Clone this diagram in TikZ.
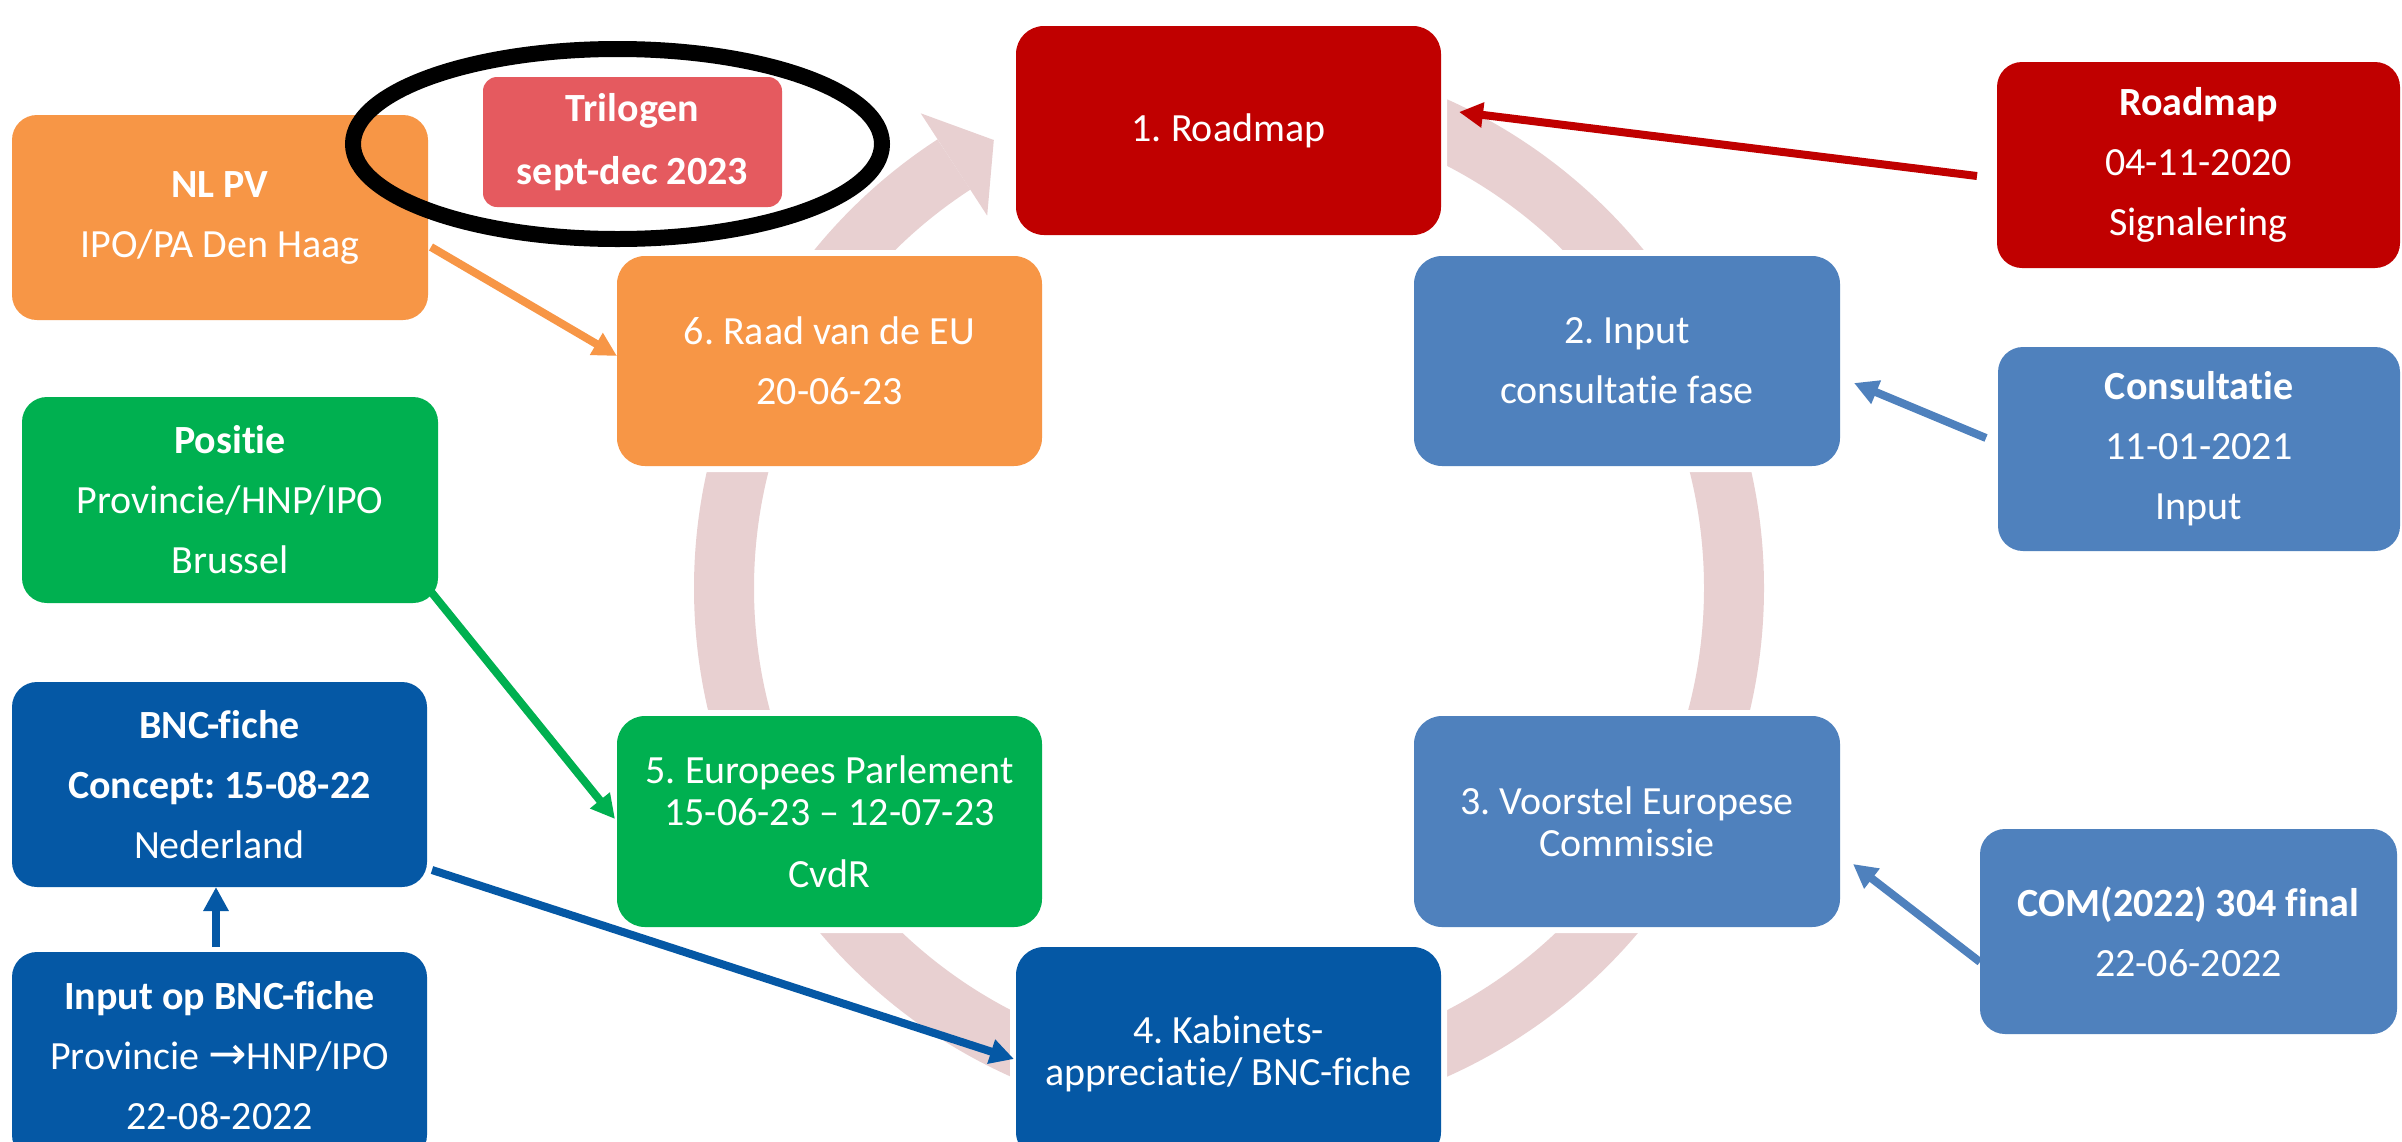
\documentclass[tikz,border=0pt]{standalone}
\usepackage{fontspec}
\setmainfont{Carlito}[Ligatures=NoCommon]
\newfontfamily\symfont{DejaVu Sans}
\usetikzlibrary{arrows.meta,shapes.geometric}
\definecolor{cRed}{RGB}{192,0,0}
\definecolor{cLBlue}{RGB}{79,129,189}
\definecolor{cDBlue}{RGB}{5,88,165}
\definecolor{cGreen}{RGB}{0,176,80}
\definecolor{cOrange}{RGB}{247,150,70}
\definecolor{cTril}{RGB}{229,90,95}
\definecolor{cRing}{RGB}{232,208,209}
\frenchspacing
\begin{document}
\begin{tikzpicture}[x=1pt,y=-1pt,
  box/.style={rounded corners=28pt, text=white, align=center, inner sep=0pt, outer sep=0pt,
    font=\fontsize{40}{42}\selectfont},
  cyc/.style={box, preaction={draw=white, line width=12pt}},
  arr/.style={line width=8pt, -{Triangle[length=24pt,width=24pt]}}
]
\useasboundingbox (0,0) rectangle (2402,1141);
\fill[white] (0,0) rectangle (2402,1141);
\clip (0,0) rectangle (2402,1141);

% background cycle ring
\begin{scope}[shift={(1229,588)}, x=1pt, y=1pt]
  \draw[cRing, line width=60pt] (90:505) arc[start angle=90, end angle=-237, radius=505];
  \fill[cRing] (123:444) -- (117.7:506) -- (123:566) -- cycle;
\end{scope}

% cycle boxes
\node[cyc, fill=cRed, minimum width=425pt, minimum height=209pt] (b1) at (1228.5,130.5) {1. Roadmap};
\node[cyc, fill=cLBlue, minimum width=426pt, minimum height=210pt] (b2) at (1627,361) {2. Input\\[18pt]consultatie fase};
\node[cyc, fill=cLBlue, minimum width=426pt, minimum height=211pt] (b3) at (1627,821.5) {3. Voorstel Europese\\Commissie};
\node[cyc, fill=cDBlue, minimum width=425pt, minimum height=213pt] (b4) at (1228.5,1053.5) {4. Kabinets-\\appreciatie/ BNC-fiche};
\node[cyc, fill=cGreen, minimum width=425pt, minimum height=211pt] (b5) at (829.5,821.5) {5. Europees Parlement\\15-06-23 -- 12-07-23\\[20pt]CvdR};
\node[cyc, fill=cOrange, minimum width=425pt, minimum height=210pt] (b6) at (829.5,361) {6. Raad van de EU\\[18pt]20-06-23};

% side boxes
\node[box, rounded corners=25pt, fill=cRed, minimum width=403pt, minimum height=206pt] (rm) at (2198.5,165) {\bfseries Roadmap\\[18pt]04-11-2020\\[18pt]Signalering};
\node[box, rounded corners=25pt, fill=cLBlue, minimum width=402pt, minimum height=204pt] (cons) at (2199,449) {\bfseries Consultatie\\[18pt]11-01-2021\\[18pt]Input};
\node[box, rounded corners=25pt, fill=cLBlue, minimum width=417pt, minimum height=205pt] (com) at (2188.5,931.5) {\bfseries COM(2022) 304 final\\[18pt]22-06-2022};
\node[box, rounded corners=25pt, fill=cOrange, minimum width=416pt, minimum height=205pt] (nlpv) at (220,217.5) {\bfseries NL PV\\[18pt]IPO/PA Den Haag};
\node[box, rounded corners=25pt, fill=cGreen, minimum width=416pt, minimum height=206pt] (pos) at (230,500) {\bfseries Positie\\[18pt]Provincie/HNP/IPO\\[18pt]Brussel};
\node[box, rounded corners=25pt, fill=cDBlue, minimum width=415pt, minimum height=205pt] (bnc) at (219.5,784.5) {\bfseries BNC-fiche\\[18pt]\bfseries Concept: 15-08-22\\[18pt]Nederland};
\node[box, rounded corners=25pt, fill=cDBlue, minimum width=415pt, minimum height=208pt] (ib) at (219.5,1056) {\bfseries Input op BNC-fiche\\[18pt]Provincie {\symfont\fontsize{46}{42}\selectfont →}HNP/IPO\\[18pt]22-08-2022};
\node[box, rounded corners=14pt, fill=cTril, minimum width=299pt, minimum height=130pt] (tril) at (632.5,142) {\bfseries Trilogen\\[21pt]\bfseries sept-dec 2023};

% connectors
\draw[arr, cRed] ([xshift=-20pt,yshift=-11pt]rm.west) -- ([xshift=18pt,yshift=18.5pt]b1.east);
\draw[arr, cLBlue] ([xshift=-12pt,yshift=11pt]cons.west) -- ([xshift=14pt,yshift=-22pt]b2.east);
\draw[arr, cLBlue] ([yshift=-30.5pt]com.west) -- ([xshift=13pt,yshift=-42.5pt]b3.east);
\draw[arr, cOrange] ([xshift=3pt,yshift=-29.5pt]nlpv.east) -- ([yshift=5pt]b6.west);
\draw[arr, cGreen] ([xshift=-10pt,yshift=15pt]pos.south east) -- ([xshift=-2pt,yshift=2.5pt]b5.west);
\draw[arr, cDBlue] ([xshift=5pt,yshift=-85.5pt]bnc.east) -- ([xshift=-2pt,yshift=-5.5pt]b4.west);
\draw[arr, cDBlue] ([xshift=-3.5pt,yshift=5pt]ib.north) -- ([xshift=-3.5pt]bnc.south);

% highlight ellipse
\node[draw=black, line width=16pt, ellipse, minimum width=529pt, minimum height=190pt, inner sep=0pt] (hl) at (617.5,144) {};
\end{tikzpicture}
\end{document}
